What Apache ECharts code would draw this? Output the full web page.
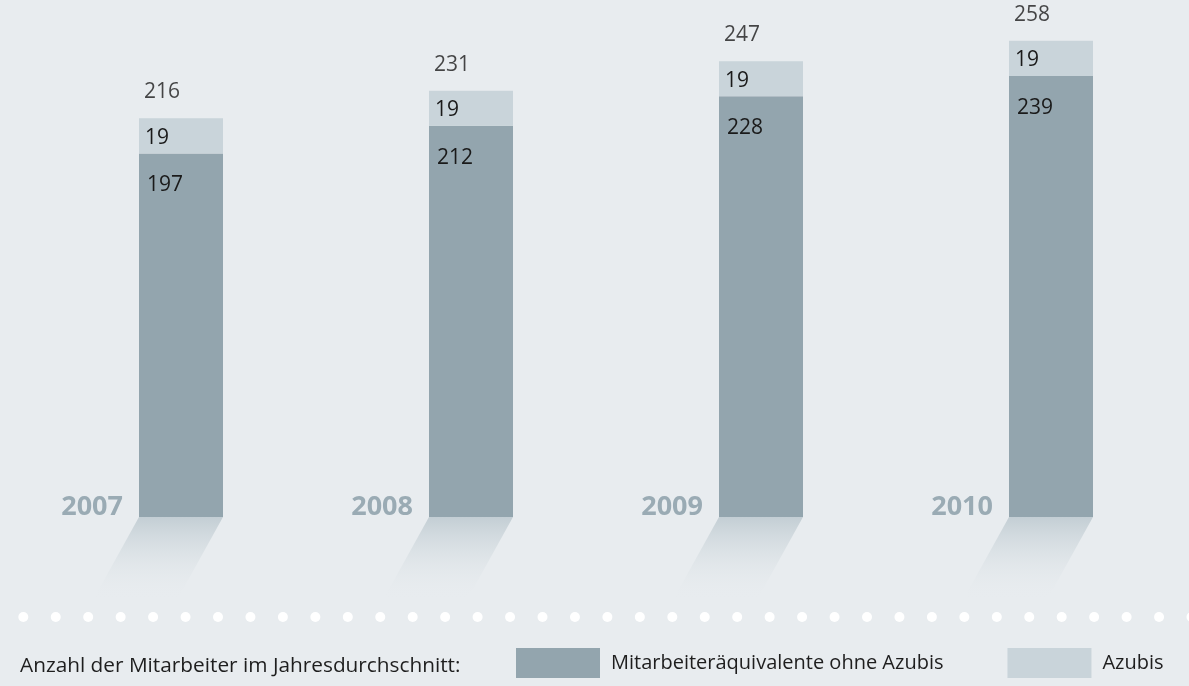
<!DOCTYPE html>
<html>
<head>
<meta charset="utf-8">
<script src="https://cdn.jsdelivr.net/npm/echarts@6/dist/echarts.min.js"></script>
<style>
  html, body { margin: 0; padding: 0; background: #e8ecef; }
  #main { width: 1189px; height: 686px; }
</style>
</head>
<body>
<div id="main"></div>
<script>
// Werte aus der Grafik
var jahre = ["2007", "2008", "2009", "2010"];
var mitarbeiter = [197, 212, 228, 239];
var azubis = [19, 19, 19, 19];
var gesamt = mitarbeiter.map(function (v, i) { return v + azubis[i]; });

var dunkel = "#93a5ae";
var hell = "#c9d4da";
var schrift = "'Open Sans', 'Noto Sans', sans-serif";

// weisse Punktlinie
var punkte = [];
for (var k = 0; k < 37; k++) {
  punkte.push({
    type: "circle",
    shape: { cx: 23.3 + k * 32.45, cy: 617, r: 5 },
    style: { fill: "#ffffff" },
    silent: true
  });
}

var myChart = echarts.init(document.getElementById("main"));
myChart.setOption({
  backgroundColor: "#e8ecef",
  animation: false,
  textStyle: { fontFamily: schrift },
  title: {
    text: "Anzahl der Mitarbeiter im Jahresdurchschnitt:",
    left: 15,
    top: 651,
    textStyle: { fontFamily: schrift, fontSize: 20.8, fontWeight: "normal", color: "#1e1e1e" }
  },
  legend: {
    left: 516,
    top: 648,
    padding: 0,
    itemWidth: 84,
    itemHeight: 30,
    itemGap: 64,
    icon: "rect",
    textStyle: { fontFamily: schrift, fontSize: 20, color: "#1e1e1e", padding: [3, 0, 0, 6] },
    data: ["Mitarbeiteräquivalente ohne Azubis", "Azubis"]
  },
  grid: { left: 36, width: 1160, top: 15, bottom: 169, outerBoundsMode: "none" },
  xAxis: {
    type: "category",
    data: jahre,
    axisLine: { show: false },
    axisTick: { show: false },
    axisLabel: {
      margin: 4,
      align: "right",
      verticalAlign: "bottom",
      padding: [0, 58, 0, 0],
      fontFamily: schrift,
      fontSize: 27,
      lineHeight: 27,
      fontWeight: "bold",
      color: "#9aabb4"
    }
  },
  yAxis: { type: "value", min: 0, max: 272, show: false },
  graphic: punkte,
  series: [
    {
      // Schatten unter den Saeulen
      type: "custom",
      silent: true,
      clip: false,
      z: 1,
      data: jahre.map(function (j, i) { return [i, 0]; }),
      renderItem: function (params, api) {
        var p = api.coord([api.value(0), 0]);
        var h = 42;
        return {
          type: "polygon",
          shape: {
            points: [[p[0] - h, p[1]], [p[0] + h, p[1]], [p[0] + h - 46, p[1] + 83], [p[0] - h - 46, p[1] + 83]]
          },
          style: {
            fill: new echarts.graphic.LinearGradient(0, 0, 0, 1, [
              { offset: 0, color: "#c3ced4" },
              { offset: 1, color: "rgba(232,236,239,0)" }
            ])
          }
        };
      }
    },
    {
      name: "Mitarbeiteräquivalente ohne Azubis",
      type: "bar",
      stack: "a",
      barWidth: 84,
      z: 3,
      itemStyle: { color: dunkel },
      label: {
        show: true,
        position: [8, 32],
        verticalAlign: "middle",
        fontFamily: schrift,
        fontSize: 21,
        color: "#1a1a1a"
      },
      data: mitarbeiter
    },
    {
      name: "Azubis",
      type: "bar",
      stack: "a",
      barWidth: 84,
      z: 3,
      itemStyle: { color: hell },
      label: {
        show: true,
        position: [6, 19.5],
        verticalAlign: "middle",
        fontFamily: schrift,
        fontSize: 21,
        color: "#1a1a1a"
      },
      data: azubis
    },
    {
      // Summen ueber den Saeulen
      type: "scatter",
      symbolSize: 0,
      silent: true,
      z: 4,
      label: {
        show: true,
        position: [-37, -26],
        align: "left",
        verticalAlign: "middle",
        fontFamily: schrift,
        fontSize: 21,
        color: "#1a1a1a"
      },
      data: gesamt
    }
  ]
});
</script>
</body>
</html>
